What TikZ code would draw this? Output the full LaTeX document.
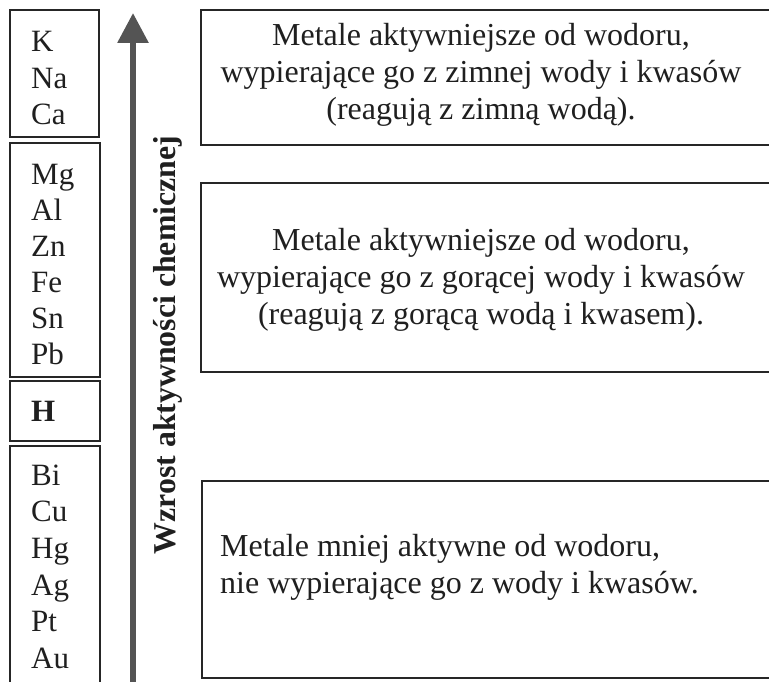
\documentclass[tikz,border=0pt]{standalone}
\usepackage{fontspec}
\setmainfont{Liberation Serif}
\usetikzlibrary{arrows.meta}
\tikzset{
  frame/.style={draw=black!85, line width=1.4pt},
  elem/.style={anchor=base west, inner sep=0pt, text=black!88,
    font=\fontsize{31}{36}\selectfont},
  desc/.style={inner sep=0pt, align=center, text=black!88,
    font=\fontsize{32}{37}\selectfont},
}
\begin{document}
\begin{tikzpicture}[x=1pt,y=1pt]
\useasboundingbox (0,0) rectangle (769,681);
\clip (0,0) rectangle (769,681);
% left column of metals
\draw[frame] (10,671) rectangle (99,544);
\draw[frame] (10,538) rectangle (100,304);
\draw[frame] (10,300) rectangle (100,240);
\draw[frame] (10,235) rectangle (100,-10);
\foreach \el [count=\i from 0] in {K,Na,Ca}
  \node[elem] (\el) at (31,{629-36.5*\i}) {\el};
\foreach \el [count=\i from 0] in {Mg,Al,Zn,Fe,Sn,Pb}
  \node[elem] (\el) at (31,{496-36*\i}) {\el};
\node[elem, font=\bfseries\fontsize{31}{36}\selectfont] (H) at (31,259) {H};
\foreach \el [count=\i from 0] in {Bi,Cu,Hg,Ag,Pt,Au}
  \node[elem] (\el) at (31,{196-36.7*\i}) {\el};
% arrow
\coordinate (arrowfoot) at (133,-10);
\coordinate (arrowtip) at (133,668);
\draw[line width=6pt, draw=black!67, -{Triangle[length=30pt,width=30pt]}]
  (arrowfoot) -- (arrowtip);
\node[rotate=90, anchor=base, inner sep=0pt, text=black!88,
  font=\bfseries\fontsize{31.8}{36}\selectfont] (growth) at (175,336)
  {Wzrost aktywności chemicznej};
% right column of descriptions
\draw[frame] (201,671) rectangle (780,536);
\draw[frame] (201,498) rectangle (780,309);
\draw[frame] (202,200) rectangle (780,3);
\node[desc, anchor=base] (coldwater) at (481,561)
  {Metale aktywniejsze od wodoru,\\
   wypierające go z zimnej wody i kwasów\\
   (reagują z zimną wodą).};
\node[desc, anchor=base] (hotwater) at (481,356)
  {Metale aktywniejsze od wodoru,\\
   wypierające go z gorącej wody i kwasów\\
   (reagują z gorącą wodą i kwasem).};
\node[desc, align=left, anchor=base west] (nowater) at (220,88)
  {Metale mniej aktywne od wodoru,\\
   nie wypierające go z wody i kwasów.};
\end{tikzpicture}
\end{document}
